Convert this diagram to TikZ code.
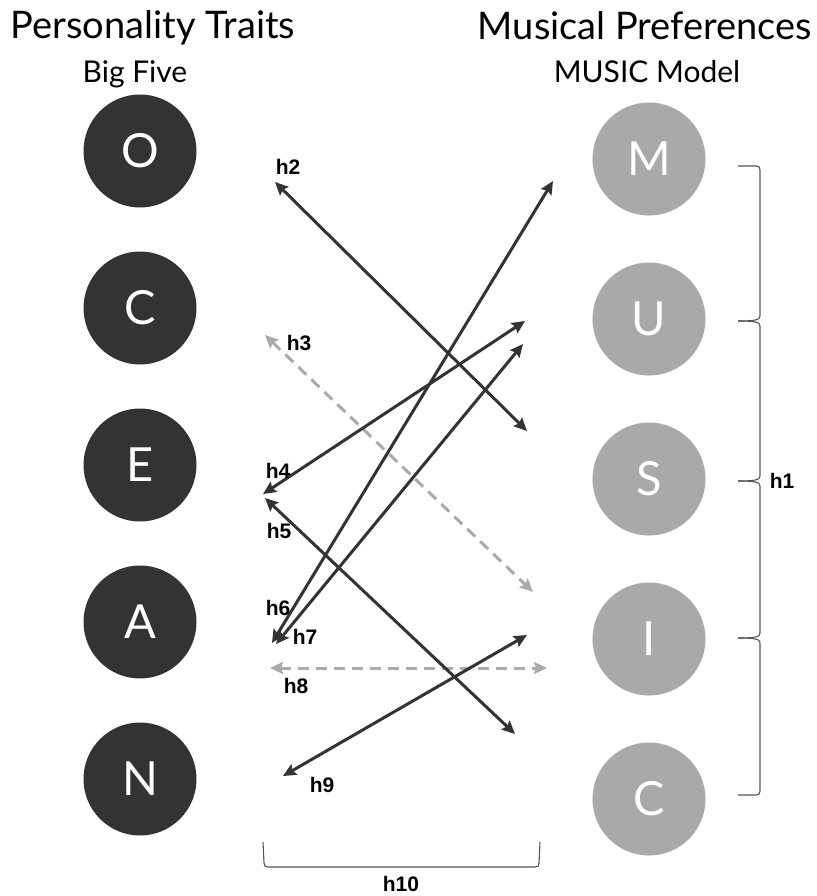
\documentclass[tikz,border=0pt]{standalone}
\usepackage{fontspec}
\setmainfont{Lato}
\newfontfamily\lblfont{Liberation Sans}
\usetikzlibrary{arrows.meta}

\definecolor{darkfill}{HTML}{333333}
\definecolor{lightfill}{HTML}{ABA8A8}
\definecolor{linkdark}{HTML}{333333}
\definecolor{linkgray}{HTML}{AAAAAA}
\definecolor{bracecol}{HTML}{555555}

\tikzset{
  traitnode/.style={circle, fill=darkfill, minimum size=113pt, inner sep=0pt,
    text=white, font=\fontsize{47}{47}\selectfont},
  prefnode/.style={circle, fill=lightfill, minimum size=113pt, inner sep=0pt,
    text=white, font=\fontsize{47}{47}\selectfont},
  link/.style={draw=linkdark, line width=3pt, {Stealth[length=13pt,width=12pt,inset=2pt]}-{Stealth[length=13pt,width=12pt,inset=2pt]}},
  glink/.style={draw=linkgray, line width=3pt, dash pattern=on 11pt off 7pt,
    {Stealth[length=13pt,width=12pt,inset=2pt]}-{Stealth[length=13pt,width=12pt,inset=2pt]}},
  hlabel/.style={font=\lblfont\bfseries\fontsize{21}{23}\selectfont, text=black, inner sep=0pt},
  title/.style={font=\fontsize{38}{40}\selectfont, text=black, inner sep=0pt, anchor=base},
  subtitle/.style={font=\fontsize{30}{32}\selectfont, text=black, inner sep=0pt, anchor=base},
  bracket/.style={draw=bracecol, line width=1.1pt}
}

\begin{document}
\begin{tikzpicture}[x=1pt,y=-1pt]
\useasboundingbox (0,0) rectangle (816,896);

% Headings
\node[title] (tleft) at (153,39) {Personality Traits};
\node[subtitle] (sleft) at (135,83) {Big Five};
\node[title] (tright) at (645,40) {Musical Preferences};
\node[subtitle] (sright) at (647,83) {MUSIC Model};

% Big Five circles
\node[traitnode] (o) at (140,151) {O};
\node[traitnode] (c) at (140,308) {C};
\node[traitnode] (e) at (140,465) {E};
\node[traitnode] (a) at (140,622) {A};
\node[traitnode] (n) at (140,779) {N};

% MUSIC circles
\node[prefnode] (m) at (649,159) {M};
\node[prefnode] (u) at (649,319) {U};
\node[prefnode] (s) at (649,479) {S};
\node[prefnode] (i) at (649,639) {I};
\node[prefnode] (c2) at (649,799) {C};

% Arrow end points
\coordinate (h2a) at (275,182);  \coordinate (h2b) at (527,431);
\coordinate (h3a) at (265,335);  \coordinate (h3b) at (533,592);
\coordinate (h4a) at (263,494);  \coordinate (h4b) at (525,321);
\coordinate (h5a) at (265,498);  \coordinate (h5b) at (515,734);
\coordinate (h6a) at (272,643);  \coordinate (h6b) at (553,181);
\coordinate (h7a) at (276,644);  \coordinate (h7b) at (523,344);
\coordinate (h8a) at (270,668);  \coordinate (h8b) at (547,668);
\coordinate (h9a) at (283,776);  \coordinate (h9b) at (527,635);

% Hypothesis links
\draw[glink] (h3a) -- (h3b);
\draw[glink] (h8a) -- (h8b);
\draw[link] (h2a) -- (h2b);
\draw[link] (h4a) -- (h4b);
\draw[link] (h5a) -- (h5b);
\draw[link] (h6a) -- (h6b);
\draw[link] (h7a) -- (h7b);
\draw[link] (h9a) -- (h9b);

% Hypothesis labels
\node[hlabel] (l2) at (288,167) {h2};
\node[hlabel] (l3) at (299,343) {h3};
\node[hlabel] (l4) at (278,471) {h4};
\node[hlabel] (l5) at (279,531) {h5};
\node[hlabel] (l6) at (278,608) {h6};
\node[hlabel] (l7) at (305,637) {h7};
\node[hlabel] (l8) at (296,686) {h8};
\node[hlabel] (l9) at (322,785) {h9};

% Right-hand bracket over the MUSIC factors
\draw[bracket] (738,166) -- (756,166) .. controls (759,166) and (760,167) .. (760,170)
  -- (760,316) .. controls (760,320) and (755,321) .. (738,321);
\draw[bracket] (738,321) .. controls (755,321) and (760,322) .. (760,326)
  -- (760,476) .. controls (760,480) and (755,481) .. (738,481);
\draw[bracket] (738,481) .. controls (755,481) and (760,482) .. (760,486)
  -- (760,633) .. controls (760,637) and (755,638) .. (738,638);
\draw[bracket] (738,638) .. controls (755,638) and (760,639) .. (760,643)
  -- (760,791) .. controls (760,794) and (759,795) .. (756,795) -- (738,795);
\node[hlabel] (l1) at (782,481) {h1};

% Bottom bracket across the links
\draw[bracket] (263,842) -- (264,863) .. controls (264,866) and (265,867) .. (268,867)
  -- (535,867) .. controls (538,867) and (539,866) .. (539,863) -- (540,842);
\node[hlabel] (l10) at (401,884) {h10};
\end{tikzpicture}
\end{document}
